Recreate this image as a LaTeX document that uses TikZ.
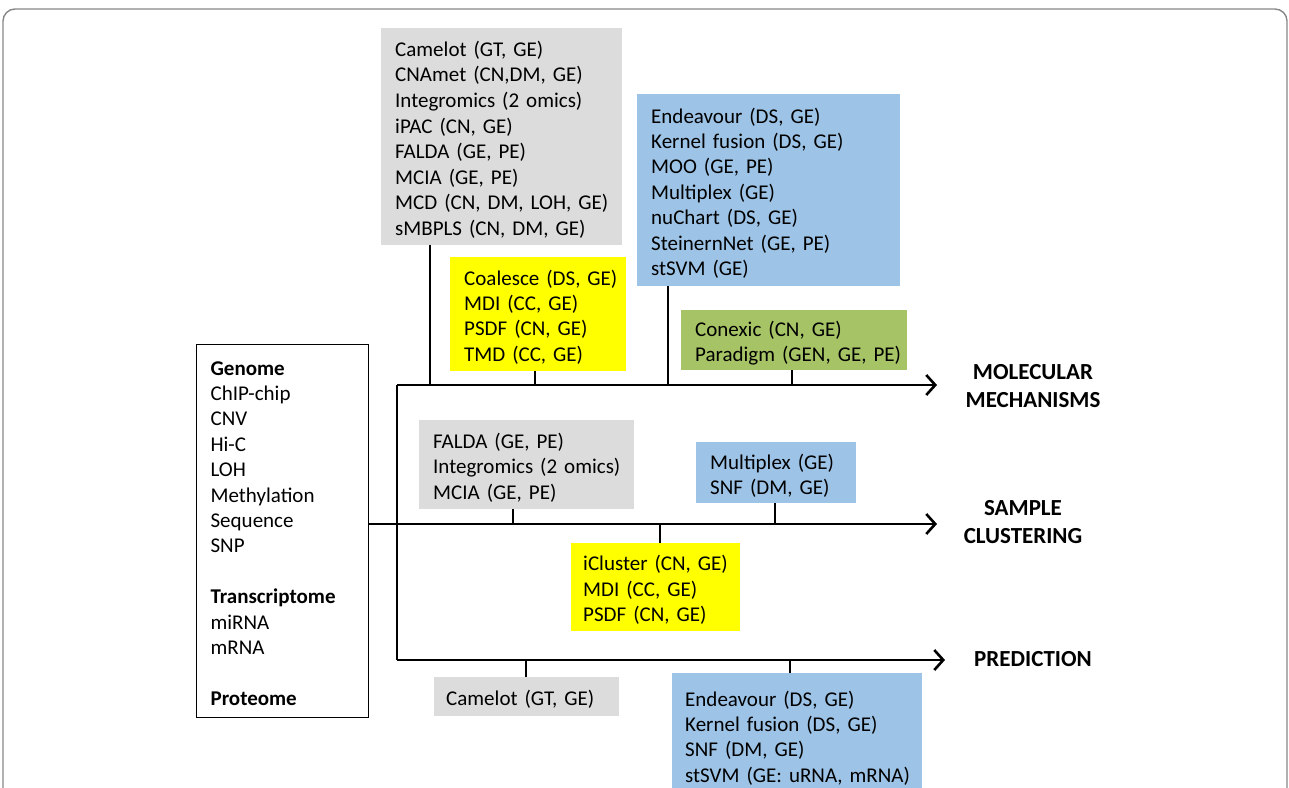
\documentclass[tikz,border=0pt]{standalone}
\usepackage{fontspec}
\setmainfont{Carlito}
\usetikzlibrary{arrows.meta}
\definecolor{graybox}{RGB}{220,220,220}
\definecolor{bluebox}{RGB}{157,195,230}
\definecolor{yellowbox}{RGB}{255,255,0}
\definecolor{greenbox}{RGB}{166,196,102}
\definecolor{framegray}{RGB}{135,135,135}
\newcommand\boxlines[1]{\raisebox{-4pt}[\height][\depth]{\begin{tabular}{@{}l@{}}#1\end{tabular}}}
\tikzset{
  box/.style={anchor=north west, inner xsep=14pt, inner ysep=0pt, align=left,
    font=\fontsize{21}{25.4}\selectfont},
  conn/.style={line width=2.6pt, black},
  axis/.style={line width=2.6pt, black, -{Straight Barb[length=9pt,width=20pt]}},
  goal/.style={font=\fontsize{23}{28}\selectfont\bfseries, align=center},
}
\begin{document}
\begin{tikzpicture}[x=1pt,y=-1pt]
\useasboundingbox (0,0) rectangle (1289,787);
% frame
\draw[framegray, line width=1.4pt, rounded corners=12pt] (3,800) -- (3,9) -- (1287,9) -- (1287,800);

% boxes
\node[box, fill=graybox, text width=213pt, minimum height=217pt, font=\fontsize{21}{25.6}\selectfont] (gray1) at (381,28)
 {\boxlines{Camelot (GT, GE)\\CNAmet (CN,DM, GE)\\Integromics (2 omics)\\iPAC (CN, GE)\\FALDA (GE, PE)\\MCIA (GE, PE)\\MCD (CN, DM, LOH, GE)\\sMBPLS (CN, DM, GE)}};
\node[box, fill=bluebox, text width=235pt, minimum height=192pt] (blue1) at (637,94)
 {\boxlines{Endeavour (DS, GE)\\Kernel fusion (DS, GE)\\MOO (GE, PE)\\Multiplex (GE)\\nuChart (DS, GE)\\SteinernNet (GE, PE)\\stSVM (GE)}};
\node[box, fill=yellowbox, text width=148pt, minimum height=114pt] (yellow1) at (450,257)
 {\boxlines{Coalesce (DS, GE)\\MDI (CC, GE)\\PSDF (CN, GE)\\TMD (CC, GE)}};
\node[box, fill=greenbox, text width=198pt, minimum height=60pt] (green) at (681,310)
 {\boxlines{Conexic (CN, GE)\\Paradigm (GEN, GE, PE)}};
\node[box, draw=black, line width=1.2pt, text width=144pt, minimum height=373pt] (omics) at (196,344)
 {\boxlines{\textbf{Genome}\\ChIP-chip\\CNV\\Hi-C\\LOH\\Methylation\\Sequence\\SNP\\[25.4pt]\textbf{Transcriptome}\\miRNA\\mRNA\\[25.4pt]\textbf{Proteome}}};
\node[box, fill=graybox, text width=187pt, minimum height=89pt] (gray2) at (419,420)
 {\boxlines{FALDA (GE, PE)\\Integromics (2 omics)\\MCIA (GE, PE)}};
\node[box, fill=bluebox, text width=132pt, minimum height=61pt] (blue2) at (696,442)
 {\boxlines{Multiplex (GE)\\SNF (DM, GE)}};
\node[box, fill=yellowbox, inner xsep=12pt, text width=145pt, minimum height=88pt] (yellow2) at (571,543)
 {\boxlines{iCluster (CN, GE)\\MDI (CC, GE)\\PSDF (CN, GE)}};
\node[box, fill=graybox, inner xsep=12pt, text width=161pt, minimum height=39pt] (camelot) at (434,677)
 {\boxlines{Camelot (GT, GE)}};
\node[box, fill=bluebox, inner xsep=13pt, text width=224pt, minimum height=124pt] (blue3) at (672,673)
 {\boxlines{Endeavour (DS, GE)\\Kernel fusion (DS, GE)\\SNF (DM, GE)\\stSVM (GE: uRNA, mRNA)}};

% goal labels
\node[goal] (molmech) at (1033,386) {MOLECULAR\\MECHANISMS};
\node[goal] (sampclust) at (1023,522) {SAMPLE\\CLUSTERING};
\node[goal] (pred) at (1033,659) {PREDICTION};

% axis coordinates
\coordinate (tTop) at (397,385);
\coordinate (tBot) at (397,660);
\coordinate (mEnd) at (937,385);
\coordinate (sEnd) at (937,524);
\coordinate (pEnd) at (945,660);
\coordinate (sStart) at (368,524);

% axes
\draw[conn] (tTop) -- (tBot);
\draw[axis] (tTop) -- (mEnd);
\draw[axis] (sStart) -- (sEnd);
\draw[axis] (tBot) -- (pEnd);

% connectors
\coordinate (c1) at (430,385);
\coordinate (c2) at (535,385);
\coordinate (c3) at (668,385);
\coordinate (c4) at (792,385);
\coordinate (c5) at (513,524);
\coordinate (c6) at (660,524);
\coordinate (c7) at (775,524);
\coordinate (c8) at (526,660);
\coordinate (c9) at (790,660);
\draw[conn] (c1) -- (c1 |- gray1.south);
\draw[conn] (c2) -- (c2 |- yellow1.south);
\draw[conn] (c3) -- (c3 |- blue1.south);
\draw[conn] (c4) -- (c4 |- green.south);
\draw[conn] (c5) -- (c5 |- gray2.south);
\draw[conn] (c6) -- (c6 |- yellow2.north);
\draw[conn] (c7) -- (c7 |- blue2.south);
\draw[conn] (c8) -- (c8 |- camelot.north);
\draw[conn] (c9) -- (c9 |- blue3.north);
\end{tikzpicture}
\end{document}
